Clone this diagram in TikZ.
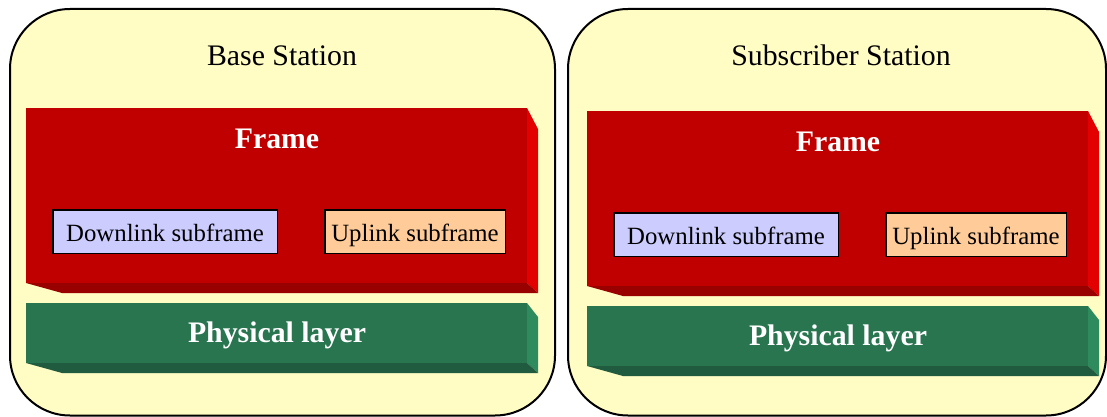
\documentclass[tikz,border=0pt]{standalone}
\usepackage{fontspec}
\setmainfont{Liberation Serif}

\definecolor{panelfill}{RGB}{255,252,196}
\definecolor{framefront}{RGB}{192,0,0}
\definecolor{frameside}{RGB}{226,0,0}
\definecolor{framebottom}{RGB}{153,0,0}
\definecolor{phyfront}{RGB}{40,117,80}
\definecolor{physide}{RGB}{46,139,94}
\definecolor{phybottom}{RGB}{33,91,63}
\definecolor{downfill}{RGB}{204,204,255}
\definecolor{upfill}{RGB}{255,204,153}

% A bevelled slab: front face as a named node, lit side on the right, shaded base below.
% #1 node name, #2 top-left corner, #3 width, #4 height, #5 drop of the side bevel, #6 colour family
\newcommand{\drawslab}[6]{%
  \node[slabface, fill=#6front, minimum width=#3pt, minimum height=#4pt, anchor=north west] (#1) at #2 {};
  \fill[#6side] (#1.north east) -- ++(11,#5) -- ([shift={(11,10)}]#1.south east) -- (#1.south east) -- cycle;
  \fill[#6bottom] (#1.south west) -- (#1.south east) -- ++(11,10) -- ([shift={(36,10)}]#1.south west) -- cycle;
}

\begin{document}
\begin{tikzpicture}[x=1pt,y=-1pt,
  panel/.style={draw=black, line width=2pt, fill=panelfill, rounded corners=60pt},
  slabface/.style={inner sep=0pt, outer sep=0pt, draw=none},
  title/.style={anchor=base, inner sep=0pt, font=\fontsize{29.8}{32}\selectfont},
  slablabel/.style={anchor=base, inner sep=0pt, text=white, font=\fontsize{29.8}{32}\selectfont\bfseries},
  subbox/.style={draw=black, line width=1.5pt, inner sep=0pt, minimum height=43.5pt,
    text height=20pt, text depth=0pt, font=\fontsize{24.8}{27}\selectfont}
]
\useasboundingbox (0,0) rectangle (1107,417);

% Station panels
\draw[panel] (10,9) rectangle (555,415.5);
\draw[panel] (568,9) rectangle (1106,415.5);

\node[title] (bstitle) at (282,66) {Base Station};
\node[title] (sstitle) at (841,66) {Subscriber Station};

% Base station stack
\drawslab{bsframe}{(26,108)}{501}{175}{21}{frame}
\node[slablabel] (bsframelabel) at (277,148) {Frame};
\node[subbox, fill=downfill, minimum width=224.5pt] (bsdown) at (165,231.5) {Downlink subframe};
\node[subbox, fill=upfill, minimum width=180.5pt] (bsup) at (415,231.5) {Uplink subframe};
\drawslab{bsphy}{(26,303)}{501}{60}{14}{phy}
\node[slablabel] (bsphylabel) at (277,342) {Physical layer};

% Subscriber station stack
\begin{scope}[shift={(561,3)}]
\drawslab{ssframe}{(26,108)}{501}{175}{21}{frame}
\node[slablabel] (ssframelabel) at (277,148) {Frame};
\node[subbox, fill=downfill, minimum width=224.5pt] (ssdown) at (165,231.5) {Downlink subframe};
\node[subbox, fill=upfill, minimum width=180.5pt] (ssup) at (415,231.5) {Uplink subframe};
\drawslab{ssphy}{(26,303)}{501}{60}{14}{phy}
\node[slablabel] (ssphylabel) at (277,342) {Physical layer};
\end{scope}
\end{tikzpicture}
\end{document}
